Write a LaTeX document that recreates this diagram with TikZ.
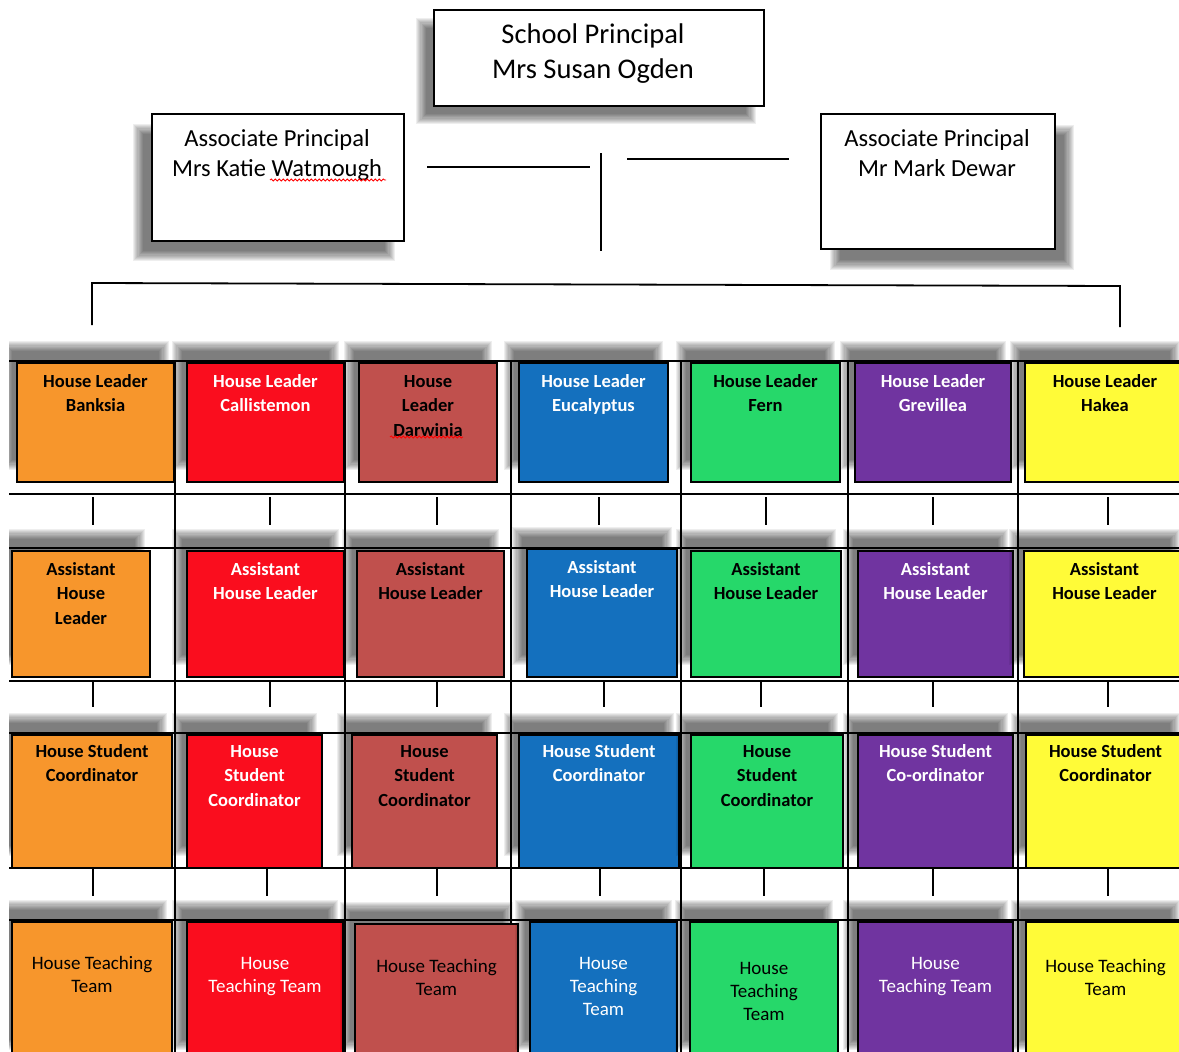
\documentclass[tikz,border=0pt]{standalone}
\usepackage{fontspec}
\setmainfont{Carlito}
\usetikzlibrary{decorations.pathmorphing}
\definecolor{hOrange}{RGB}{247,150,44}
\definecolor{hRed}{RGB}{250,13,30}
\definecolor{hBrown}{RGB}{192,80,77}
\definecolor{hBlue}{RGB}{20,112,190}
\definecolor{hGreen}{RGB}{38,216,106}
\definecolor{hPurple}{RGB}{112,52,160}
\definecolor{hYellow}{RGB}{255,251,56}
\newcommand\blurrect[4]{\foreach \k in {0,...,9}{\fill[black,opacity=0.068] ({#1-5+1.1*\k},{#2-5+1.1*\k}) rectangle ({#3+5-1.1*\k},{#4+5-1.1*\k});}}
\newcommand\rs{24pt}
\newcommand\hb[8]{%
  \begin{scope}\clip (9,300) rectangle (1190,1060); \blurrect{#2-10}{#3-17}{#4-10}{#5-17}\end{scope}
  \node[hbox, fill=#6, text=#7] (#1) at (#2,#3) {\parbox[t][\dimexpr#5pt-#3pt\relax][t]{\dimexpr#4pt-#2pt\relax}{\centering\rule{0pt}{\rs}#8\par}};
}
\tikzset{
  hbox/.style={draw=black, line width=2.2pt, anchor=north west, inner sep=0pt, outer sep=0pt, font=\fontsize{18.5}{24.5}\selectfont\bfseries},
  tbox/.style={draw=black, line width=2pt, fill=white, anchor=north west, inner sep=0pt, outer sep=0pt},
  grid/.style={line width=1.6pt, black},
  conn/.style={line width=1.8pt, black},
  squig/.style={red, line width=0.8pt, decorate, decoration={snake, segment length=4pt, amplitude=1.1pt}}
}
\begin{document}
\begin{tikzpicture}[x=1pt,y=-1pt]
\clip (0,0) rectangle (1179,1052);
\fill[white] (0,0) rectangle (1179,1052);

% ---- top section ----
\blurrect{421}{23}{751}{119}
\blurrect{138}{129}{390}{256}
\blurrect{835}{130}{1069}{265}
\node[tbox, minimum width=330pt, minimum height=96pt] (prin) at (434,10) {};
\node[anchor=north, inner sep=0pt, align=center, font=\fontsize{28.5}{35}\selectfont] (prinT) at (593,24) {School Principal\\Mrs Susan Ogden};
\node[tbox, minimum width=252pt, minimum height=127pt] (apl) at (152,114) {};
\node[anchor=north, inner sep=0pt, align=center, font=\fontsize{24.5}{30}\selectfont] (aplT) at (277,129) {Associate Principal\\Mrs Katie Watmough};
\node[tbox, minimum width=234pt, minimum height=135pt] (apr) at (821,114) {};
\node[anchor=north, inner sep=0pt, align=center, font=\fontsize{24.5}{30}\selectfont] (aprT) at (937,129) {Associate Principal\\Mr Mark Dewar};
\draw[squig] (270,180) -- (386,180);

\coordinate (l1) at (427,167); \coordinate (l2) at (590,167);
\coordinate (v1) at (601,153); \coordinate (v2) at (601,251);
\coordinate (r1) at (627,159); \coordinate (r2) at (789,159);
\coordinate (h1) at (92,283); \coordinate (h2) at (1120,286);
\coordinate (d1) at (92,325); \coordinate (d2) at (1120,327);
\draw[conn] (l1) -- (l2);
\draw[conn] (v1) -- (v2);
\draw[conn] (r1) -- (r2);
\draw[conn] (d1) -- (h1) -- (h2) -- (d2);

% ---- grid ----
\foreach \yy in {361,494,548,681,733,868,920} {\draw[grid] (9,\yy) -- (1179,\yy);}
\foreach \xx in {175,345,511,681,848,1018} {\draw[grid] (\xx,361) -- (\xx,1052);}

% ---- ticks between rows ----
\foreach \xx [count=\i] in {93,270,437,599,766,933,1108} {
  \coordinate (ta\i) at (\xx,497); \coordinate (tb\i) at (\xx,525);
  \draw[conn] (ta\i) -- (tb\i);}
\foreach \xx [count=\i] in {93,270,437,604,761,933,1108} {
  \coordinate (tc\i) at (\xx,682); \coordinate (td\i) at (\xx,707);
  \draw[conn] (tc\i) -- (td\i);}
\foreach \xx [count=\i] in {93,267,437,600,764,933,1108} {
  \coordinate (te\i) at (\xx,869); \coordinate (tf\i) at (\xx,896);
  \draw[conn] (te\i) -- (tf\i);}

% ---- row 1 ----
\renewcommand\rs{24pt}
\hb{a1}{17}{363}{174}{482}{hOrange}{black}{House Leader\\Banksia}
\hb{a2}{187}{363}{344}{482}{hRed}{white}{House Leader\\Callistemon}
\hb{a3}{359}{363}{497}{482}{hBrown}{black}{House\\Leader\\Darwinia}
\hb{a4}{519}{363}{668}{482}{hBlue}{white}{House Leader\\Eucalyptus}
\hb{a5}{691}{363}{840}{482}{hGreen}{black}{House Leader\\Fern}
\hb{a6}{855}{363}{1011}{482}{hPurple}{white}{House Leader\\Grevillea}
\hb{a7}{1025}{363}{1185}{482}{hYellow}{black}{House Leader\\Hakea}
\draw[squig] (390,437) -- (463,437);

% ---- row 2 ----
\hb{b1}{12}{551}{150}{677}{hOrange}{black}{Assistant\\House\\Leader}
\hb{b2}{187}{551}{344}{677}{hRed}{white}{Assistant\\House Leader}
\hb{b3}{357}{551}{504}{677}{hBrown}{black}{Assistant\\House Leader}
\hb{b4}{527}{549}{677}{677}{hBlue}{white}{Assistant\\House Leader}
\hb{b5}{691}{551}{841}{677}{hGreen}{black}{Assistant\\House Leader}
\hb{b6}{858}{551}{1013}{677}{hPurple}{white}{Assistant\\House Leader}
\hb{b7}{1024}{551}{1185}{677}{hYellow}{black}{Assistant\\House Leader}

% ---- row 3 ----
\renewcommand\rs{22pt}
\hb{c1}{12}{735}{172}{868}{hOrange}{black}{House Student\\Coordinator}
\hb{c2}{187}{735}{322}{868}{hRed}{white}{House\\Student\\Coordinator}
\hb{c3}{352}{735}{497}{868}{hBrown}{black}{House\\Student\\Coordinator}
\hb{c4}{519}{735}{679}{868}{hBlue}{white}{House Student\\Coordinator}
\hb{c5}{691}{735}{843}{868}{hGreen}{black}{House\\Student\\Coordinator}
\hb{c6}{858}{735}{1013}{868}{hPurple}{white}{House Student\\Co-ordinator}
\hb{c7}{1026}{735}{1185}{868}{hYellow}{black}{House Student\\Coordinator}

% ---- row 4 ----
\begin{scope}[hbox/.append style={font=\fontsize{19}{23}\selectfont}]
\renewcommand\rs{47pt}
\hb{d1}{12}{922}{172}{1062}{hOrange}{black}{House Teaching\\Team}
\hb{d2}{187}{922}{343}{1062}{hRed}{white}{House\\Teaching Team}
\renewcommand\rs{48pt}
\hb{d3}{355}{924}{518}{1062}{hBrown}{black}{House Teaching\\Team}
\renewcommand\rs{47pt}
\hb{d4}{530}{922}{677}{1062}{hBlue}{white}{House\\Teaching\\Team}
\renewcommand\rs{52pt}
\hb{d5}{690}{922}{838}{1062}{hGreen}{black}{House\\Teaching\\Team}
\renewcommand\rs{47pt}
\hb{d6}{858}{922}{1013}{1062}{hPurple}{white}{House\\Teaching Team}
\renewcommand\rs{50pt}
\hb{d7}{1026}{922}{1185}{1062}{hYellow}{black}{House Teaching\\Team}
\end{scope}
\end{tikzpicture}
\end{document}
